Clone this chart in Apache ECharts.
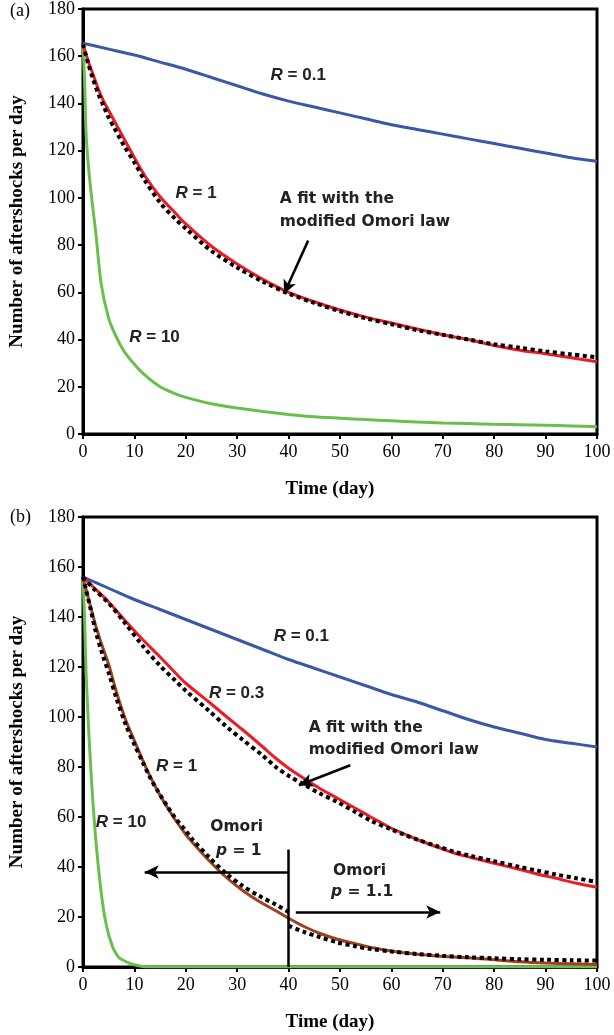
<!DOCTYPE html>
<html><head><meta charset="utf-8">
<script src="https://cdn.jsdelivr.net/npm/echarts@6/dist/echarts.min.js"></script>
<style>html,body{margin:0;padding:0;background:#fff}#c{width:614px;height:1035px}</style>
</head><body><div id="c"></div><script>
// ---------- Panel (a) data ----------
const tBlueA = [0,5,10,15,20,25,30,35,40,45,50,55,60,65,70,75,80,85,90,95,100];
const vBlueA = [165.5,163,160.5,157.5,154.5,151,147.5,144,141,138.5,136,133.5,131,129,127,125,123,121,119,117,115.5];
const tRedA = [0,1,2,3,4,5,6,8,10,12,15,18,20,25,30,35,40,45,50,55,60,65,70,75,80,85,90,95,100];
const vRedA = [165,158,152,146,141,137,133,125,117,109.5,100.5,93.5,89,79.5,72,65.5,60,56,52.5,49.5,47,44.5,42,40,37.5,35.5,34,32.3,30.6];
const vFitA = [165,157,150,144,139,134,130,122,115,107.5,98,91,87,77.5,70.5,64.5,59.5,55.5,52,49,46.5,44,42,40,38,36.5,35,33.7,32.5];
const tGreenA = [0,0.3,0.6,1.2,1.9,2.5,3.5,5,6.5,8,10,12,15,18,20,25,30,35,40,45,50,55,60,65,70,75,80,85,90,95,100];
const vGreenA = [165,150,127,110,96,85,64,49,41,35,29.5,25,20,17,15.5,12.8,11,9.5,8.3,7.3,6.7,6.1,5.6,5.1,4.7,4.4,4.1,3.9,3.7,3.4,3.1];

// ---------- Panel (b) data ----------
const tBlueB = [0,5,10,15,20,25,30,35,40,45,50,55,60,65,70,75,80,85,90,95,100];
const vBlueB = [156,151.5,147,143,139,135,131,127,123,119.5,116,112.5,109,106,102.5,99,96,93.5,91,89.5,88];
const tRedB = [0,2,5,8,11.6,15,18,20,24.5,28,31,35,37.5,40,43,46,49.5,53,56,60,62.4,65,68.9,72,75.3,80,85,88.3,92,96,100];
const vRedB = [156,152,146,139,131,124,117.6,113.5,106,100,95,88,83.5,79.5,75.4,71.5,67.5,63.5,60,55.5,53.3,51,48,45.7,43.9,41.5,39,37.2,35.5,33.5,31.9];
const vFitB03 = [156,151.5,145.5,138,128.5,120.5,114.5,110.5,102.5,96,91,84.5,80,76.5,73,69.5,66,62,58.5,55,53,51,48.3,46.2,44.5,42.3,40,38.6,37,35.5,34];
const tBrownB = [0,0.6,1.5,2.5,3.8,5.1,6.5,8.3,10,11.6,13,14.8,16.5,18,20,21.3,24.5,27.8,31,34.2,37.5,40,43,46,49.5,53,56,60,62.4,65,69,75,80,85,90,95,100];
const vBrownB = [156,151,144,136.3,128,120.3,110,98.8,90.5,82.8,76.5,69.4,63.5,58.7,53,49.8,42.6,36,30.7,26.3,22.5,19.5,16.2,13.5,11.1,9.3,7.8,6.4,5.7,5.1,4.4,3.7,2.9,2.1,1.6,1.3,1];
const tFitP1 = [0,1.5,2.5,3.8,5.1,6.5,8.3,10,11.6,13,14.8,16.5,18,20,21.3,24.5,27.8,31,34.2,37.5,40];
const vFitP1 = [156,143,134,125,117,107.5,97,89,82,76,69.5,64,59.5,54.5,51,44,37.5,32.5,28.5,25,22];
const tFitP11 = [40,43,46,49.5,53,56,60,65,70,75,80,85,90,95,100];
const vFitP11 = [16.5,14,12,9.8,8.3,7.2,6.2,5.2,4.5,3.9,3.5,3.1,2.9,2.7,2.6];
const tGreenB = [0,0.3,0.6,1.2,1.9,2.5,3.5,4.5,5.8,7,8.5,9.6,11.6,13,20,40,60,80,100];
const vGreenB = [156,140,117.6,90.8,66.7,50.6,30.5,17.1,7.8,3.7,2,1.1,0.2,0,0,0,0,0,0];

// ticks
const xTicks = [0,10,20,30,40,50,60,70,80,90,100];
const yTicks = [0,20,40,60,80,100,120,140,160,180];

const zip = (t, v) => t.map((x, i) => [x, v[i]]);
const C = {blue:'#3b57a7', red:'#ed1c24', green:'#6abf4b', brown:'#a0401f', dot:'#000'};

function xAx(g){return {type:'value', gridIndex:g, min:xTicks[0], max:xTicks[xTicks.length-1], interval:10,
  axisLine:{show:true,onZero:false,lineStyle:{color:'#000',width:3}},
  axisTick:{show:true,length:5,lineStyle:{color:'#000',width:2}},
  axisLabel:{color:'#000',fontFamily:'Liberation Serif',fontSize:18,margin:9},
  splitLine:{show:false},
  name:'Time (day)', nameLocation:'middle', nameGap:46,
  nameTextStyle:{fontFamily:'Liberation Serif',fontWeight:'bold',fontSize:19,color:'#000',padding:[0,20,0,0]}};}
function yAx(g){return {type:'value', gridIndex:g, min:yTicks[0], max:yTicks[yTicks.length-1], interval:20,
  axisLine:{show:true,onZero:false,lineStyle:{color:'#000',width:3}},
  axisTick:{show:true,length:5,lineStyle:{color:'#000',width:2}},
  axisLabel:{color:'#000',fontFamily:'Liberation Serif',fontSize:18,margin:8},
  splitLine:{show:false},
  name:'Number of aftershocks per day', nameLocation:'middle', nameGap:56,
  nameTextStyle:{fontFamily:'Liberation Serif',fontWeight:'bold',fontSize:19,color:'#000'}};}

function line(g, data, color, sm){return {type:'line', xAxisIndex:g, yAxisIndex:g, data, showSymbol:false,
  smooth: sm === undefined ? 0.3 : sm,
  lineStyle:{color, width:3}, z:2, silent:true, animation:false};}
function dots(g, data){return {type:'line', xAxisIndex:g, yAxisIndex:g, data, showSymbol:false,
  smooth:0.3,
  lineStyle:{color:C.dot, width:4, type:[4,3.5], cap:'butt'}, z:5, silent:true, animation:false};}

const arrowLS = {color:'#000', width:2.5, type:'solid'};
function seg(p1, p2, arrow){return [{coord:p1, symbol:'none'}, {coord:p2, symbol: arrow?'arrow':'none', symbolSize:[10,14]}];}

const option = {
  animation:false,
  grid:[
    {left:82, right:17, top:9, height:425, show:true, borderColor:'#000', borderWidth:3},
    {left:82, right:17, top:517, height:450, show:true, borderColor:'#000', borderWidth:3}
  ],
  xAxis:[xAx(0), xAx(1)],
  yAxis:[yAx(0), yAx(1)],
  series:[
    line(0, zip(tBlueA, vBlueA), C.blue),
    line(0, zip(tGreenA, vGreenA), C.green, 0.2),
    line(0, zip(tRedA, vRedA), C.red),
    Object.assign(dots(0, zip(tRedA, vFitA)), {markLine:{silent:true, symbol:['none','arrow'], lineStyle:arrowLS, label:{show:false},
      data:[seg([43.8,81.9],[39.1,59.3],true)]}}),
    line(1, zip(tBlueB, vBlueB), C.blue),
    line(1, zip(tGreenB, vGreenB), C.green, 0.2),
    line(1, zip(tRedB, vRedB), C.red),
    line(1, zip(tBrownB, vBrownB), C.brown),
    dots(1, zip(tRedB, vFitB03)),
    dots(1, zip(tFitP1, vFitP1)),
    Object.assign(dots(1, zip(tFitP11, vFitP11)), {markLine:{silent:true, lineStyle:arrowLS, label:{show:false},
      data:[seg([40,0],[40,47],false), seg([40,38],[12,38],true), seg([41.4,22],[69.5,22],true), seg([52,80.7],[42,72.7],true)]}})
  ]
};

const chart = echarts.init(document.getElementById('c'), null, {renderer:'canvas'});
chart.setOption(option);

const fontR = 'bold 17px "Liberation Sans"';
const fontC = 'bold 15.5px "DejaVu Sans"';
const richR = {i:{font:'italic bold 17px "Liberation Sans"', fill:'#222'}};
const richP = {i:{font:'italic bold 15.5px "DejaVu Sans"', fill:'#222'}};
const notes = [
  // [grid, t, v, text, font, align, rich]
  [0, 36.5, 152, '{i|R} = 0.1', fontR, 'left', richR],
  [0, 18, 102, '{i|R} = 1', fontR, 'left', richR],
  [0, 9, 41, '{i|R} = 10', fontR, 'left', richR],
  [0, 38.3, 99.5, 'A fit with the', fontC, 'left', null],
  [0, 38.3, 89.8, 'modified Omori law', fontC, 'left', null],
  [1, 37.1, 132.3, '{i|R} = 0.1', fontR, 'left', richR],
  [1, 24.5, 109.3, '{i|R} = 0.3', fontR, 'left', richR],
  [1, 14.2, 80.3, '{i|R} = 1', fontR, 'left', richR],
  [1, 2.5, 58, '{i|R} = 10', fontR, 'left', richR],
  [1, 43.9, 95.5, 'A fit with the', fontC, 'left', null],
  [1, 43.9, 86.8, 'modified Omori law', fontC, 'left', null],
  [1, 29.9, 56, 'Omori', fontC, 'center', null],
  [1, 30.3, 46.6, '{i|p} = 1', fontC, 'center', richP],
  [1, 53.8, 38.6, 'Omori', fontC, 'center', null],
  [1, 54.3, 29.9, '{i|p} = 1.1', fontC, 'center', richP]
];
const graphic = notes.map(n => {
  const p = chart.convertToPixel({gridIndex:n[0]}, [n[1], n[2]]);
  const st = {text:n[3], x:p[0], y:p[1], font:n[4], fill:'#222', align:n[5], verticalAlign:'middle'};
  if (n[6]) st.rich = n[6];
  return {type:'text', silent:true, z:20, style:st};
});
graphic.push({type:'text', left:10, top:2, silent:true, style:{text:'(a)', font:'18px "Liberation Serif"', fill:'#000'}});
graphic.push({type:'text', left:10, top:508, silent:true, style:{text:'(b)', font:'18px "Liberation Serif"', fill:'#000'}});
chart.setOption({graphic});
</script></body></html>
